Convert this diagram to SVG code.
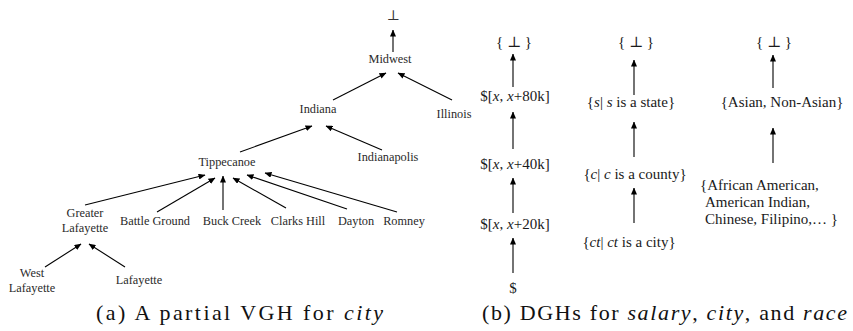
<svg xmlns="http://www.w3.org/2000/svg" width="853" height="331" viewBox="0 0 853 331">
<defs>
<marker id="ah" markerWidth="7" markerHeight="6" refX="6.5" refY="3" orient="auto" markerUnits="userSpaceOnUse">
<path d="M0,0 L7,3 L0,6 Z" fill="#000"/>
</marker>
<style>
text{font-family:'Liberation Serif','Times New Roman',Tinos,'DejaVu Serif',serif}
.t{font-size:12.3px;fill:#2a2a2a;text-anchor:middle}
.r{font-size:15px;fill:#1a1a1a;text-anchor:middle}
.rl{font-size:15px;fill:#1a1a1a}
.bot{font-size:14px;fill:#333;text-anchor:middle}
.cap{font-size:22px;fill:#111}
.e{stroke:#000;stroke-width:1.1;fill:none;marker-end:url(#ah)}
</style>
</defs>
<rect width="853" height="331" fill="#fff"/>
<g id="connectors">
<line class="e" x1="393" y1="52" x2="393" y2="30"/>
<line class="e" x1="333" y1="100" x2="386" y2="73"/>
<line class="e" x1="452" y1="100" x2="398" y2="73"/>
<line class="e" x1="240" y1="152" x2="312" y2="126"/>
<line class="e" x1="382" y1="150" x2="326" y2="126"/>
<line class="e" x1="85" y1="205" x2="205" y2="175"/>
<line class="e" x1="157" y1="212" x2="215" y2="178"/>
<line class="e" x1="223" y1="210" x2="223" y2="176"/>
<line class="e" x1="286" y1="208" x2="233" y2="178"/>
<line class="e" x1="347" y1="209" x2="247" y2="175"/>
<line class="e" x1="397" y1="212" x2="265" y2="173"/>
<line class="e" x1="45" y1="267" x2="81" y2="244"/>
<line class="e" x1="125" y1="267" x2="89" y2="244"/>
<line class="e" x1="513" y1="87" x2="513" y2="54"/>
<line class="e" x1="513" y1="149" x2="513" y2="112"/>
<line class="e" x1="513" y1="213" x2="513" y2="178"/>
<line class="e" x1="513" y1="273" x2="513" y2="238"/>
<line class="e" x1="634" y1="95" x2="634" y2="60"/>
<line class="e" x1="634" y1="157" x2="634" y2="122"/>
<line class="e" x1="634" y1="223" x2="634" y2="188"/>
<line class="e" x1="773" y1="88" x2="773" y2="55"/>
<line class="e" x1="773" y1="163" x2="773" y2="128"/>
</g>
<g id="bottom"><text class="bot" x="393" y="20" font-family="DejaVu Serif, serif">⊥</text></g>
<g id="midwest"><text class="t" x="390" y="63">Midwest</text></g>
<g id="indiana"><text class="t" x="318" y="113">Indiana</text></g>
<g id="illinois"><text class="t" x="454" y="118">Illinois</text></g>
<g id="tippecanoe"><text class="t" x="227" y="166">Tippecanoe</text></g>
<g id="indianapolis"><text class="t" x="388" y="161">Indianapolis</text></g>
<g id="greater-lafayette"><text class="t" x="85" y="217">Greater</text><text class="t" x="85" y="232">Lafayette</text></g>
<g id="battle-ground"><text class="t" x="155" y="225">Battle Ground</text></g>
<g id="buck-creek"><text class="t" x="232" y="225">Buck Creek</text></g>
<g id="clarks-hill"><text class="t" x="298" y="225">Clarks Hill</text></g>
<g id="dayton"><text class="t" x="356" y="225">Dayton</text></g>
<g id="romney"><text class="t" x="404" y="225">Romney</text></g>
<g id="west-lafayette"><text class="t" x="32" y="277">West</text><text class="t" x="32" y="292">Lafayette</text></g>
<g id="lafayette"><text class="t" x="139" y="284">Lafayette</text></g>

<g id="salary-top"><text class="r" x="514" y="47">{ ⊥ }</text></g>
<g id="salary-80k"><text class="r" x="515" y="101">$[<tspan font-style="italic">x</tspan>, <tspan font-style="italic">x</tspan>+80k]</text></g>
<g id="salary-40k"><text class="r" x="515" y="169">$[<tspan font-style="italic">x</tspan>, <tspan font-style="italic">x</tspan>+40k]</text></g>
<g id="salary-20k"><text class="r" x="515" y="229">$[<tspan font-style="italic">x</tspan>, <tspan font-style="italic">x</tspan>+20k]</text></g>
<g id="salary-base"><text class="r" x="513" y="293">$</text></g>

<g id="city-top"><text class="r" x="636" y="47">{ ⊥ }</text></g>
<g id="city-state"><text class="r" x="631" y="107">{<tspan font-style="italic">s</tspan>| <tspan font-style="italic">s</tspan> is a state}</text></g>
<g id="city-county"><text class="r" x="635" y="179">{<tspan font-style="italic">c</tspan>| <tspan font-style="italic">c</tspan> is a county}</text></g>
<g id="city-city"><text class="r" x="629" y="247">{<tspan font-style="italic">ct</tspan>| <tspan font-style="italic">ct</tspan> is a city}</text></g>

<g id="race-top"><text class="r" x="774" y="47">{ ⊥ }</text></g>
<g id="race-asian"><text class="r" x="782" y="107">{Asian, Non-Asian}</text></g>
<g id="race-base"><text class="rl" x="700" y="190">{African American,</text><text class="rl" x="705" y="207">American Indian,</text><text class="rl" x="705" y="224">Chinese, Filipino,… }</text></g>

<g id="caption-a"><text class="cap" x="96" y="320" textLength="287" lengthAdjust="spacing">(a) A partial VGH for <tspan font-style="italic">city</tspan></text></g>
<g id="caption-b"><text class="cap" x="482" y="320" textLength="365" lengthAdjust="spacing">(b) DGHs for <tspan font-style="italic">salary</tspan>, <tspan font-style="italic">city</tspan>, and <tspan font-style="italic">race</tspan></text></g>
</svg>
